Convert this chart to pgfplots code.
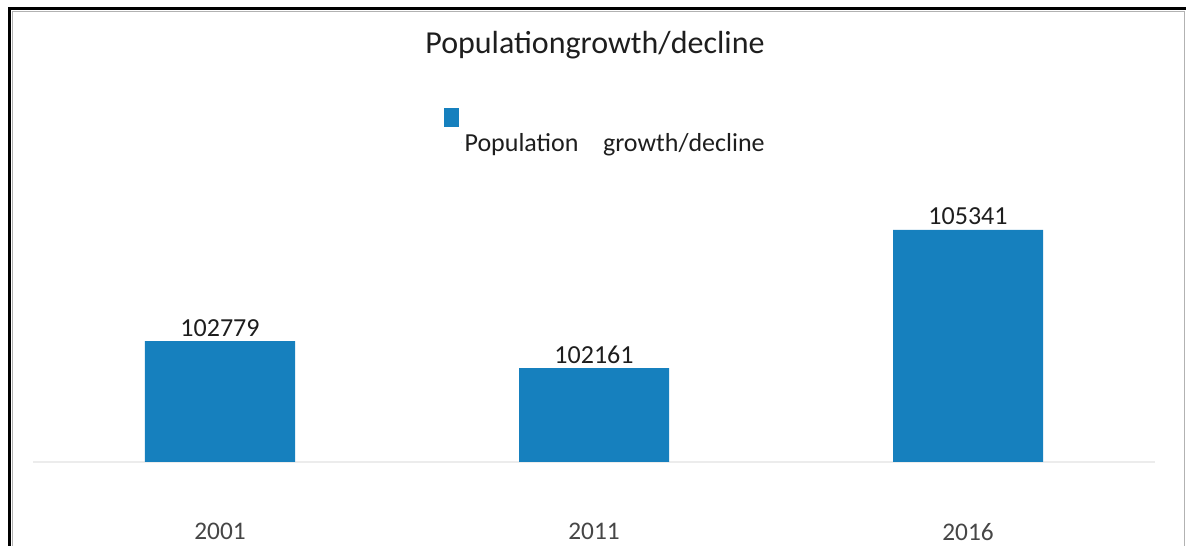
\documentclass[border=0pt]{standalone}
\usepackage{pgfplots}
\pgfplotsset{compat=1.18}
\usepackage{fontspec}
\setmainfont{Carlito}
\definecolor{barblue}{RGB}{22,128,190}
\definecolor{txtdark}{RGB}{30,30,30}
\definecolor{txtgray}{RGB}{70,70,70}
\begin{document}
\begin{tikzpicture}
\path[use as bounding box] (0,0) rectangle (889.5pt,409.5pt);
% frame
\draw[black, line width=2.25pt] (7.1pt,0) -- (7.1pt,403.1pt) -- (889.5pt,403.1pt);
\draw[gray!60, line width=0.6pt] (9pt,0) -- (9pt,401.3pt) -- (888.5pt,401.3pt) -- (888.5pt,0);
% title
\node[anchor=base, font=\fontsize{24}{28}\selectfont, text=txtdark, inner sep=0pt] at (446.25pt,369.5pt) {Populationgrowth/decline};
\begin{axis}[
  at={(24.75pt,63pt)}, anchor=south west,
  scale only axis,
  width=841.5pt, height=301.5pt,
  xmin=-0.5, xmax=2.5,
  ymin=100000, ymax=109246,
  axis x line*=bottom, axis y line=none,
  x axis line style={draw=gray!15, line width=0.8pt, -},
  xtick=data, xticklabels={2001,2011,2016},
  major tick length=0pt,
  xticklabel style={font=\fontsize{19}{23}\selectfont, text=txtgray, anchor=north, yshift=-42.5pt},
  ybar, bar width=112.5pt,
  nodes near coords,
  every node near coord/.append style={font=\fontsize{19.5}{23}\selectfont, text=txtdark},
  /pgf/number format/.cd, fixed, precision=0, 1000 sep={}, assume math mode=true, /pgfplots/.cd,
  legend style={draw=none, fill=none, at={(0.3785,0.832)}, anchor=north west,
    font=\fontsize{19.5}{23}\selectfont, text=txtdark},
  legend image code/.code={%
    \fill[barblue, overlay] (-13.75pt,12pt) rectangle (-2.5pt,26pt);
    \path (0pt,0pt) rectangle (0pt,1pt);},
]
\addplot[fill=barblue, draw=none] coordinates {(0,102779) (1,102161) (2,105341)};
\addlegendentry{Population\hspace{14pt} growth/decline}
\end{axis}
\end{tikzpicture}
\end{document}
